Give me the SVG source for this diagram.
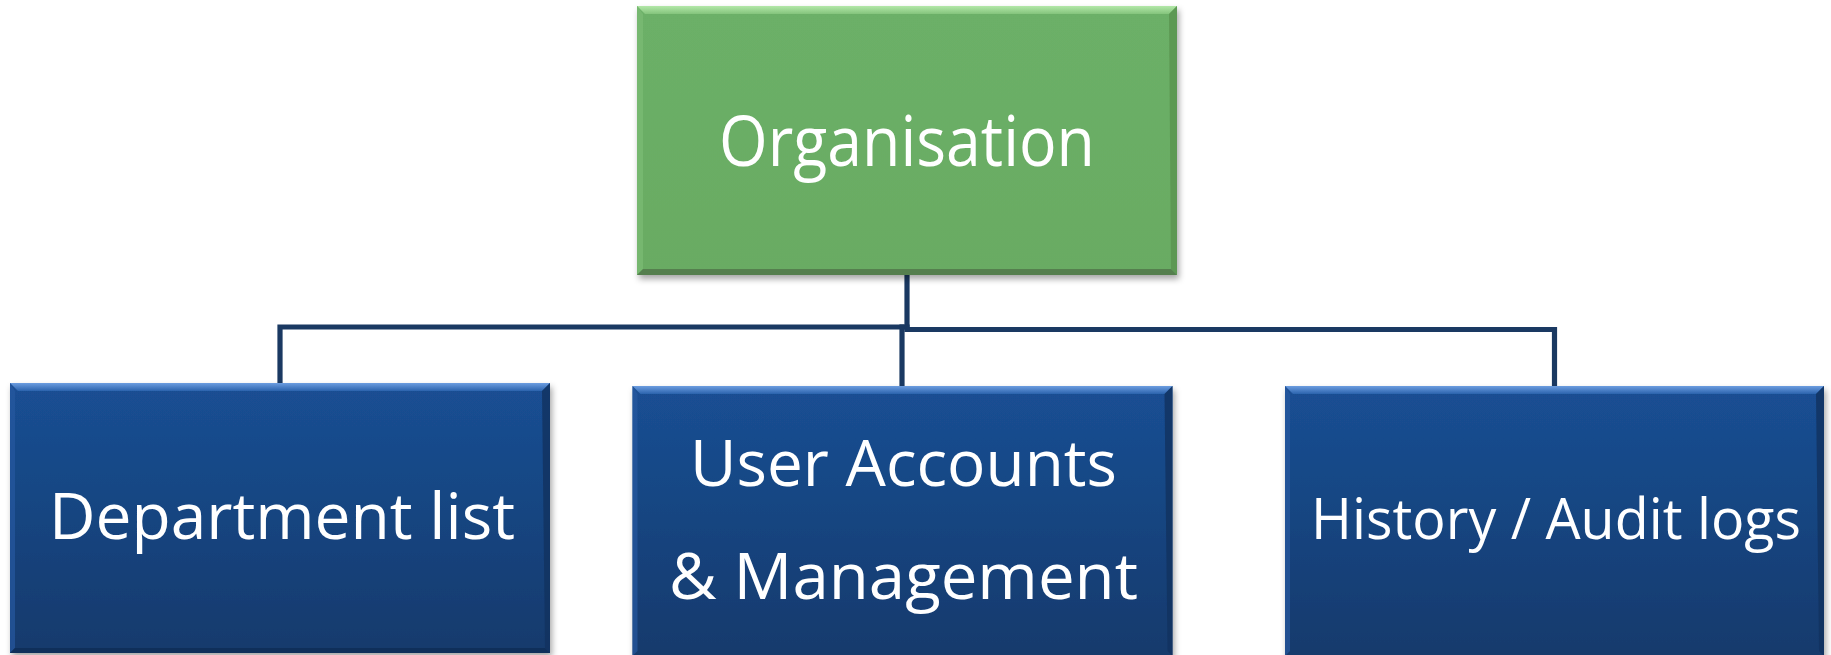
<svg xmlns="http://www.w3.org/2000/svg" width="1831" height="655" viewBox="0 0 1831 655">
<defs>
<style>
.lbl{font-family:"Open Sans","Noto Sans","Liberation Sans",sans-serif;fill:#ffffff;text-anchor:middle}
.conn{fill:none;stroke:#1a3962;stroke-width:5.2;stroke-linecap:square}
</style>
<linearGradient id="blueFill" x1="0" y1="0" x2="0" y2="1">
<stop offset="0" stop-color="#1a4f94"/>
<stop offset="1" stop-color="#143a6c"/>
</linearGradient>
<linearGradient id="greenFill" x1="0" y1="0" x2="0" y2="1">
<stop offset="0" stop-color="#6cb067"/>
<stop offset="1" stop-color="#69ab63"/>
</linearGradient>
<linearGradient id="blueTop" x1="0" y1="0" x2="0" y2="1">
<stop offset="0" stop-color="#6c9de0"/>
<stop offset="1" stop-color="#2b63ad"/>
</linearGradient>
<linearGradient id="greenTop" x1="0" y1="0" x2="0" y2="1">
<stop offset="0" stop-color="#b3e8a8"/>
<stop offset="1" stop-color="#84c47c"/>
</linearGradient>
<filter id="shadow" x="-5%" y="-5%" width="112%" height="115%">
<feDropShadow dx="2" dy="4" stdDeviation="3" flood-color="#000000" flood-opacity="0.35"/>
</filter>
</defs>

<g id="connectors">
<polyline class="conn" points="907,276 907,327"/>
<polyline class="conn" points="907,327 280,327 280,383"/>
<polyline class="conn" points="902,327 902,386"/>
<polyline class="conn" points="907,329.5 1554.5,329.5 1554.5,386"/>
</g>

<g id="node-organisation">
<rect x="637" y="6" width="540" height="269" fill="url(#greenFill)" filter="url(#shadow)"/>
<polygon points="637,6 1177,6 1169,14 645,14" fill="url(#greenTop)"/>
<polygon points="637,6 643,14 643,269 637,275" fill="#7cbc75" opacity="0.7"/>
<polygon points="1177,6 1169,14 1171,269 1177,275" fill="#5a944f" opacity="0.8"/>
<polygon points="637,275 643,269 1171,269 1177,275" fill="#557f4e"/>
<text class="lbl" x="907" y="165.5" font-size="68.6" textLength="376" lengthAdjust="spacingAndGlyphs">Organisation</text>
</g>

<g id="node-department">
<rect x="10" y="383" width="540" height="270" fill="url(#blueFill)" filter="url(#shadow)"/>
<polygon points="10,383 550,383 542,391 18,391" fill="url(#blueTop)"/>
<polygon points="10,383 15,391 15,648 10,653" fill="#2658a0" opacity="0.7"/>
<polygon points="550,383 542,391 545,648 550,653" fill="#11325f" opacity="0.8"/>
<polygon points="10,653 15,648 545,648 550,653" fill="#0f2f5a"/>
<text class="lbl" x="282" y="539" font-size="64.4" textLength="466" lengthAdjust="spacingAndGlyphs">Department list</text>
</g>

<g id="node-user-accounts">
<rect x="632.5" y="386" width="540" height="270" fill="url(#blueFill)" filter="url(#shadow)"/>
<polygon points="632.5,386 1172.5,386 1164.5,394 640.5,394" fill="url(#blueTop)"/>
<polygon points="632.5,386 637.5,394 637.5,651 632.5,656" fill="#2658a0" opacity="0.7"/>
<polygon points="1172.5,386 1164.5,394 1167.5,651 1172.5,656" fill="#11325f" opacity="0.8"/>
<text class="lbl" x="903.5" y="485.5" font-size="64.4" textLength="427" lengthAdjust="spacingAndGlyphs">User Accounts</text>
<text class="lbl" x="903.5" y="599" font-size="64.4" textLength="469" lengthAdjust="spacingAndGlyphs">&amp; Management</text>
</g>

<g id="node-history">
<rect x="1285" y="386" width="539" height="270" fill="url(#blueFill)" filter="url(#shadow)"/>
<polygon points="1285,386 1824,386 1816,394 1293,394" fill="url(#blueTop)"/>
<polygon points="1285,386 1290,394 1290,651 1285,656" fill="#2658a0" opacity="0.7"/>
<polygon points="1824,386 1816,394 1819,651 1824,656" fill="#11325f" opacity="0.8"/>
<text class="lbl" x="1556" y="539" font-size="57.4" textLength="490" lengthAdjust="spacingAndGlyphs">History / Audit logs</text>
</g>
</svg>
